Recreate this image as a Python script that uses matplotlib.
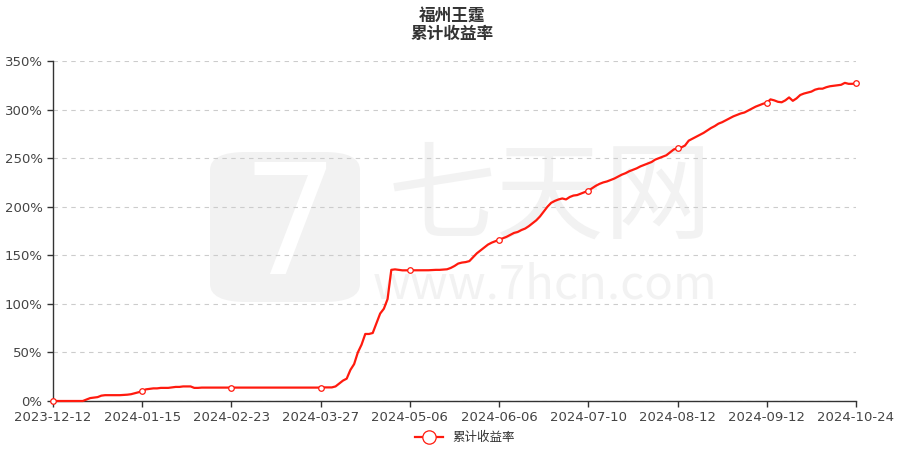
import matplotlib
matplotlib.use('Agg')
import matplotlib.pyplot as plt
from matplotlib.patches import FancyBboxPatch

plt.rcParams['font.family'] = ['Noto Sans CJK SC', 'DejaVu Sans']

title = '福州王霆\n累计收益率'
series_name = '累计收益率'
tick_labels = ['2023-12-12', '2024-01-15', '2024-02-23', '2024-03-27', '2024-05-06',
               '2024-06-06', '2024-07-10', '2024-08-12', '2024-09-12', '2024-10-24']
step = 24  # points between labelled dates

seg1 = [0, 0, 0, 0, 0, 0, 0, 0, 0, 1.5, 3, 3.5, 4, 5.5, 6, 6, 6, 6, 6, 6.2, 6.5, 7, 8, 9, 10]
seg2 = [12, 12.5, 13, 13, 13.5, 13.5, 13.5, 14, 14.5, 14.5, 15, 15, 15, 13.5, 13.5,
        13.8, 13.8, 13.8, 13.8, 13.8, 13.8, 13.8, 13.8, 13.8]
seg3 = [13.8] * 24
seg4 = [14, 14, 14, 15, 18, 21, 23, 32, 38, 50, 58, 69, 69, 70, 80, 90, 95, 105, 135,
        135.5, 135, 134.5, 134.5, 134.5]
seg5 = [134.5, 134.5, 134.5, 134.5, 134.6, 134.8, 135, 135, 135.3, 135.6, 137, 139,
        141.5, 142.5, 143, 144, 148, 152, 155, 158, 161, 163, 164.5, 166]
seg6 = [167.5, 169, 171, 173, 174, 176, 177.5, 180, 183, 186, 190, 195, 200, 204, 206,
        207.5, 208.5, 207.5, 210, 211.5, 212, 213.5, 215, 216.5]
seg7 = [219, 221.5, 223.5, 225, 226, 227.5, 229, 231, 233, 234.5, 236.5, 238, 239.5,
        241.5, 243, 244.5, 246, 248.5, 250, 251.5, 253, 256, 259, 260]
seg8 = [261, 263, 268, 270, 272, 274, 276, 278.5, 281, 283, 285.5, 287, 289, 291, 293,
        294.5, 296, 297, 299, 301, 303, 304.5, 306, 307]
seg9 = [310.5, 309.5, 308, 307.5, 309.5, 312.5, 309, 311.5, 315, 316.5, 317.5, 318.5,
        320.5, 321.5, 321.5, 323, 324, 324.5, 325, 325.5, 327.5, 326.5, 326.5, 327]
values = seg1 + seg2 + seg3 + seg4 + seg5 + seg6 + seg7 + seg8 + seg9
idx = list(range(len(values)))
tick_idx = list(range(0, len(values), step))

W, H = 904, 450
fig = plt.figure(figsize=(W / 100, H / 100), dpi=100)
ax = fig.add_axes([53 / W, 1 - 401 / H, (856 - 53) / W, (401 - 61) / H])

# watermark, drawn inside the axes below the grid and the line
wm = '#f2f2f2'
tf = fig.transFigure
logo = FancyBboxPatch((210 / W, 1 - 302 / H), 150 / W, 150 / H,
                      boxstyle='round,pad=0,rounding_size=0.04',
                      transform=tf, fc=wm, ec='none', zorder=0.1, clip_on=False)
ax.add_patch(logo)
ax.text(290 / W, 1 - 232 / H, '7', transform=tf, color='white', fontsize=110,
        family='DejaVu Sans', ha='center', va='center', zorder=0.2)
ax.text(550 / W, 1 - 200 / H, '七天网', transform=tf, color=wm, fontsize=78,
        ha='center', va='center', zorder=0.2)
ax.text(545 / W, 1 - 285 / H, 'www.7hcn.com', transform=tf, color=wm, fontsize=34,
        ha='center', va='center', zorder=0.2)

ax.plot(idx, values, color='#ff1a0e', lw=1.6, zorder=3, clip_on=False,
        label=series_name, marker='o', markevery=tick_idx, markersize=4,
        markerfacecolor='white', markeredgecolor='#ff1a0e', markeredgewidth=0.9)

ax.set_xlim(0, len(values) - 1)
ax.set_ylim(0, 350)
ax.set_yticks(range(0, 351, 50))
ax.set_yticklabels([f'{v}%' for v in range(0, 351, 50)])
ax.set_xticks(tick_idx)
ax.set_xticklabels(tick_labels)
ax.grid(axis='y', linestyle=(0, (4, 4)), color='#cccccc', lw=0.8, zorder=1)
ax.set_axisbelow(True)
for s in ['top', 'right']:
    ax.spines[s].set_visible(False)
for s in ['left', 'bottom']:
    ax.spines[s].set_color('#333333')
    ax.spines[s].set_linewidth(1)
ax.tick_params(axis='both', colors='#333333', labelcolor='#444444', labelsize=9.5,
               length=4, width=1)
ax.tick_params(axis='x', pad=3)
for lab in ax.get_xticklabels() + ax.get_yticklabels():
    lab.set_family('DejaVu Sans')

fig.text(0.5, 1 - 25 / H, title, ha='center', va='center', fontsize=12,
         fontweight='bold', color='#333333', linespacing=1.0)

ax.legend(loc='center', bbox_to_anchor=(465 / W, 1 - 438 / H),
          bbox_transform=tf, frameon=False, fontsize=9,
          handlelength=2.2, markerscale=2.4, labelcolor='#333333')

fig.savefig('out.png', dpi=100)
